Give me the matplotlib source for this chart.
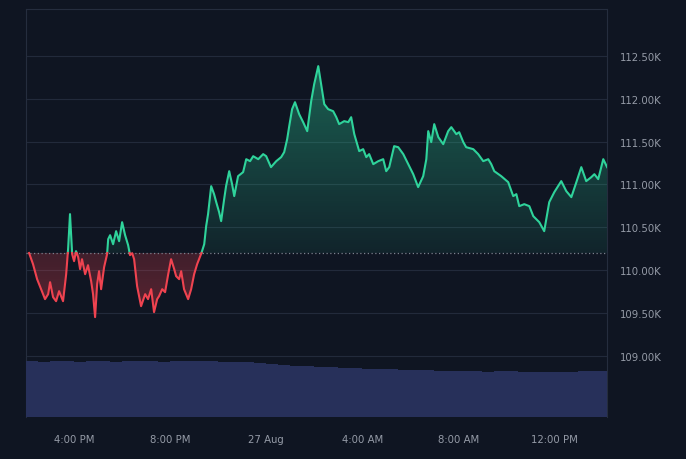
import matplotlib.pyplot as plt
import numpy as np
from matplotlib.path import Path

# hours since 14:00 on 26 Aug, price in USD
hours = [0.125, 0.29, 0.46, 0.625, 0.79, 0.92, 1.0, 1.125, 1.25, 1.375,
         1.54, 1.67, 1.75, 1.83, 1.92, 2.0, 2.08, 2.17, 2.25, 2.33,
         2.46, 2.58, 2.71, 2.79, 2.875, 2.96, 3.04, 3.125, 3.25, 3.375,
         3.42, 3.5, 3.625, 3.75, 3.875, 4.0, 4.125, 4.25, 4.33, 4.42,
         4.5, 4.625, 4.79, 4.96, 5.08, 5.21, 5.33, 5.46, 5.54, 5.67,
         5.79, 5.92, 6.04, 6.17, 6.25, 6.375, 6.46, 6.58, 6.75, 6.875,
         7.0, 7.125, 7.29, 7.42, 7.5, 7.58, 7.71, 7.83, 7.92, 8.04,
         8.125, 8.25, 8.33, 8.46, 8.58, 8.67, 8.83, 9.04, 9.17, 9.33,
         9.46, 9.67, 9.875, 10.0, 10.2, 10.42, 10.625, 10.75, 10.875, 10.96,
         11.08, 11.2, 11.375, 11.54, 11.71, 11.875, 12.0, 12.17, 12.29, 12.42,
         12.58, 12.79, 12.92, 13.04, 13.25, 13.42, 13.54, 13.67, 13.875, 14.04,
         14.17, 14.29, 14.46, 14.67, 14.875, 15.0, 15.125, 15.33, 15.5, 15.71,
         15.92, 16.125, 16.33, 16.54, 16.67, 16.75, 16.875, 17.0, 17.17, 17.375,
         17.58, 17.71, 17.92, 18.04, 18.21, 18.33, 18.625, 18.83, 19.04, 19.25,
         19.375, 19.5, 19.79, 20.08, 20.29, 20.42, 20.54, 20.75, 20.96, 21.125,
         21.375, 21.58, 21.79, 22.0, 22.29, 22.5, 22.71, 22.92, 23.125, 23.33,
         23.54, 23.67, 23.83, 24.04, 24.2]
prices = [110200, 110070, 109895, 109778, 109662, 109720, 109860, 109685, 109638, 109755,
          109638, 109953, 110245, 110654, 110187, 110105, 110222, 110152, 110012, 110128,
          109953, 110058, 109872, 109720, 109452, 109837, 109988, 109778, 110035, 110187,
          110362, 110408, 110303, 110455, 110338, 110560, 110408, 110292, 110175, 110198,
          110128, 109813, 109580, 109720, 109662, 109778, 109510, 109662, 109697, 109778,
          109743, 109953, 110128, 110012, 109930, 109895, 109988, 109778, 109662, 109778,
          109953, 110070, 110187, 110303, 110513, 110654, 110980, 110887, 110794, 110677,
          110572, 110829, 110980, 111155, 111004, 110864, 111097, 111144, 111295, 111272,
          111330, 111295, 111354, 111330, 111202, 111272, 111319, 111377, 111529, 111680,
          111879, 111960, 111820, 111727, 111622, 111972, 112171, 112381, 112171, 111937,
          111879, 111855, 111785, 111704, 111739, 111727, 111785, 111587, 111389, 111412,
          111319, 111354, 111237, 111272, 111295, 111155, 111202, 111447, 111435, 111354,
          111237, 111120, 110969, 111097, 111295, 111622, 111494, 111704, 111552, 111470,
          111622, 111669, 111587, 111610, 111494, 111435, 111412, 111354, 111272, 111295,
          111237, 111155, 111097, 111027, 110864, 110887, 110747, 110770, 110747, 110630,
          110560, 110455, 110794, 110910, 111039, 110922, 110852, 111027, 111202, 111039,
          111085, 111120, 111062, 111295, 111202]
base_price = 110200

vol_hours = list(np.arange(0, 24.5, 0.5))
volumes = [28.0, 27.5, 28.0, 28.0, 27.5, 28.0, 28.0, 27.5, 28.0, 28.0,
           28.0, 27.5, 28.0, 28.0, 28.0, 28.0, 27.5, 27.5, 27.5, 27.0,
           26.5, 26.0, 25.5, 25.5, 25.0, 25.0, 24.5, 24.5, 24.0, 24.0,
           24.0, 23.5, 23.5, 23.5, 23.0, 23.0, 23.0, 23.0, 22.5, 23.0,
           23.0, 22.5, 22.5, 22.5, 22.5, 22.5, 23.0, 23.0, 23.0]

tick_hours = [2, 6, 10, 14, 18, 22]
tick_labels = ['4:00 PM', '8:00 PM', '27 Aug', '4:00 AM', '8:00 AM', '12:00 PM']
price_ticks = [109000, 109500, 110000, 110500, 111000, 111500, 112000, 112500]

bg = '#0f1522'
green = '#2fd39b'
red = '#ef4350'
txt = '#959ba7'

# insert baseline crossings so the two colours join cleanly
xs, ys = [hours[0]], [prices[0]]
for i in range(1, len(hours)):
    x0, y0, x1, y1 = hours[i-1], prices[i-1], hours[i], prices[i]
    if (y0 - base_price) * (y1 - base_price) < 0:
        t = (base_price - y0) / (y1 - y0)
        xs.append(x0 + t * (x1 - x0))
        ys.append(base_price)
    xs.append(x1)
    ys.append(y1)
xs = np.array(xs)
ys = np.array(ys, dtype=float)

fig = plt.figure(figsize=(6.86, 4.60), dpi=100, facecolor=bg)
ax = fig.add_axes([0.038, 0.091, 0.847, 0.887])
ax.set_facecolor(bg)

# volume on its own scale at the bottom
ax2 = ax.twinx()
ax2.bar(vol_hours, volumes, width=0.5, align='edge', color='#27305a',
        linewidth=0, zorder=1)
ax2.set_ylim(0, 204)
ax2.set_xlim(0, 24.2)
ax2.axis('off')

# gradient fills clipped to the areas above / below the baseline
y_up = np.maximum(ys, base_price)
y_dn = np.minimum(ys, base_price)
up_path = Path([(xs[0], base_price)] + list(zip(xs, y_up)) + [(xs[-1], base_price), (xs[0], base_price)])
dn_path = Path([(xs[0], base_price)] + list(zip(xs, y_dn)) + [(xs[-1], base_price), (xs[0], base_price)])

grad = np.linspace(0, 1, 256).reshape(-1, 1)
g_img = np.zeros((256, 1, 4))
g_img[..., 0], g_img[..., 1], g_img[..., 2] = 0.18, 0.83, 0.61
g_img[..., 3] = 0.08 + 0.32 * grad
im = ax.imshow(g_img, extent=[0, 24.2, base_price, max(prices)], origin='lower',
               aspect='auto', zorder=2, interpolation='bilinear')
im.set_clip_path(up_path, transform=ax.transData)

r_img = np.zeros((256, 1, 4))
r_img[..., 0], r_img[..., 1], r_img[..., 2] = 0.94, 0.26, 0.31
r_img[..., 3] = 0.34 - 0.12 * grad
im2 = ax.imshow(r_img, extent=[0, 24.2, min(prices), base_price], origin='lower',
                aspect='auto', zorder=2, interpolation='bilinear')
im2.set_clip_path(dn_path, transform=ax.transData)
ax.set_xlim(0, 24.2)
ax.set_ylim(108285, 113046)

ax.plot(xs, np.where(ys >= base_price, ys, np.nan), color=green, lw=1.5, zorder=4,
        solid_joinstyle='round')
ax.plot(xs, np.where(ys <= base_price, ys, np.nan), color=red, lw=1.5, zorder=4,
        solid_joinstyle='round')
ax.axhline(base_price, color='#7b818d', lw=0.9, ls=(0, (1, 2)), zorder=3)

ax.set_yticks(price_ticks)
ax.set_yticklabels([f'{p/1000:.2f}K' for p in price_ticks])
ax.yaxis.tick_right()
ax.grid(axis='y', color='#222a3b', lw=0.8)
ax.set_axisbelow(True)
ax.set_xticks(tick_hours)
ax.set_xticklabels(tick_labels)
ax.tick_params(length=0, colors=txt, labelsize=7.3)
ax.tick_params(axis='y', pad=9)
ax.tick_params(axis='x', pad=12)
for s in ax.spines.values():
    s.set_color('#252d3e')
    s.set_linewidth(0.8)
ax.spines['bottom'].set_visible(False)

fig.savefig('out.png', dpi=100, facecolor=bg)
